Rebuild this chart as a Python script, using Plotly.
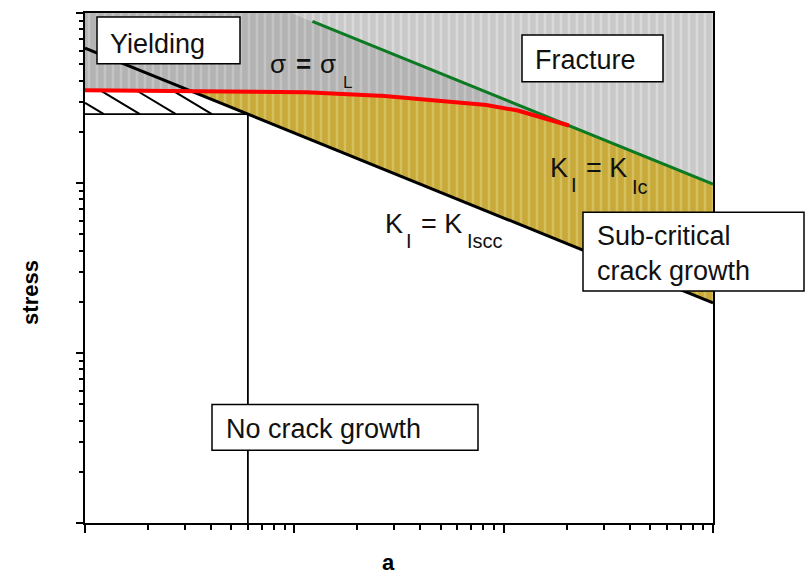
import numpy as np
import plotly.graph_objects as go

# ---- crack-growth map data: crack length a vs. stress (log-log) ----
axis_a = [1, 1000]
axis_stress = [1, 1000]
decades = [1, 10, 100, 1000]
minor_vals = [m * d for d in [1, 10, 100] for m in range(2, 10)]

# plastic limit stress, sigma = sigma_L
limit_a = [1, 3.2, 8.6, 20.7, 37, 77, 111, 162, 205]
limit_stress = [351, 349, 346, 333, 315, 291, 272, 237, 218]

# K_I = K_Iscc (stress-corrosion threshold)
kiscc_a = [1, 1000]
kiscc_stress = [622, 19.7]

# K_I = K_Ic (fracture toughness)
kic_a = [12.2, 1000]
kic_stress = [893, 98.6]

# crack length below which no growth occurs
a_threshold = 6

# ---- styling ----
W, H = 806, 575
ML, MR, MT, MB = 85, 93, 11, 52
PW, PH = W - ML - MR, H - MT - MB
FONT = "Liberation Sans, Arial, sans-serif"
HATCH_STEP = 0.172   # decades between hatch lines
HATCH_RISE = 0.74    # stress decades per crack-length decade

lg = np.log10


def straight(a_pts, s_pts):
    u0, u1 = lg(a_pts)
    v0, v1 = lg(s_pts)
    m = (v1 - v0) / (u1 - u0)
    return lambda u: v0 + m * (np.asarray(u, dtype=float) - u0)


v_scc = straight(kiscc_a, kiscc_stress)
v_ic = straight(kic_a, kic_stress)
u_lim, v_lim = lg(limit_a), lg(limit_stress)


def v_red(u):
    return np.interp(u, u_lim, v_lim)


u_min, u_max = lg(axis_a)
v_min, v_max = lg(axis_stress)
u_th = lg(a_threshold)
v_th = float(v_scc(u_th))
u_end = u_lim[-1]

grid = np.linspace(u_min, u_max, 3001)
# where the K_Ic line meets the top of the frame
ic_vals = v_ic(grid)
u_top = float(np.interp(v_max, ic_vals[::-1], grid[::-1]))
# where sigma_L crosses the K_Iscc line
g2 = grid[grid <= u_end]
u_x = float(np.interp(0.0, v_red(g2) - v_scc(g2), g2))

fig = go.Figure()


def region(u, v, bg, fg):
    fig.add_trace(go.Scatter(
        x=10 ** np.asarray(u), y=10 ** np.asarray(v), mode="lines",
        fill="toself", fillcolor=bg,
        fillpattern=dict(shape="|", bgcolor=bg, fgcolor=fg, size=8, solidity=0.3),
        line=dict(width=0, color="rgba(0,0,0,0)"), hoverinfo="skip", showlegend=False))


# fracture region (above K_Ic)
region([u_top, u_max, u_max], [v_max, v_max, float(v_ic(u_max))], "#c9c9c9", "#ececec")

# yielding region (above sigma_L)
ur = np.linspace(u_min, u_end, 200)
u_y = np.concatenate([[u_min, u_top, u_end], ur[::-1]])
v_y = np.concatenate([[v_max, v_max, float(v_ic(u_end))], v_red(ur[::-1])])
region(u_y, v_y, "#b3b3b3", "#d6d6d6")

# sub-critical crack growth region
ug = np.linspace(u_x, u_max, 400)
top = np.where(ug <= u_end, np.minimum(v_red(ug), v_ic(ug)), v_ic(ug))
bot = v_scc(ug)
region(np.concatenate([ug, ug[::-1]]), np.concatenate([top, bot[::-1]]), "#c8aa3a", "#e2d384")

# hatched band between sigma_L and threshold stress
hx, hy = [], []
s = np.linspace(0, 0.5, 2000)
for j in range(1, 6):
    ub = u_th - j * HATCH_STEP
    uu = ub - s
    vv = v_th + HATCH_RISE * s
    inside = (uu >= u_min) & (vv >= v_th - 1e-9) & (vv <= np.minimum(v_red(uu), v_scc(uu)))
    if inside.sum() < 2:
        continue
    idx = np.where(inside)[0]
    hx += [10 ** uu[idx[0]], 10 ** uu[idx[-1]], None]
    hy += [10 ** vv[idx[0]], 10 ** vv[idx[-1]], None]
fig.add_trace(go.Scatter(x=hx, y=hy, mode="lines", line=dict(color="black", width=2),
                         hoverinfo="skip", showlegend=False))

# threshold stress and threshold crack length
fig.add_trace(go.Scatter(x=[axis_a[0], a_threshold], y=[10 ** v_th] * 2, mode="lines",
                         line=dict(color="black", width=1.8), showlegend=False))
fig.add_trace(go.Scatter(x=[a_threshold] * 2, y=[axis_stress[0], 10 ** v_th], mode="lines",
                         line=dict(color="black", width=1.8), showlegend=False))

# K_I = K_Iscc
fig.add_trace(go.Scatter(x=kiscc_a, y=kiscc_stress, mode="lines",
                         line=dict(color="black", width=3), showlegend=False))
# K_I = K_Ic
fig.add_trace(go.Scatter(x=kic_a, y=kic_stress, mode="lines",
                         line=dict(color="#0b7a22", width=3), showlegend=False))
# sigma = sigma_L
ul = np.linspace(u_min, u_end, 200)
fig.add_trace(go.Scatter(x=10 ** ul, y=10 ** v_red(ul), mode="lines",
                         line=dict(color="#ff0000", width=4), showlegend=False))


def px(x):
    return (x - ML) / PW


def py(y):
    return (H - MB - y) / PH


shapes = []
for x0, y0, x1, y1 in [(97, 15, 240, 62), (522, 33, 663, 80),
                       (583, 211, 804, 290), (212, 404, 478, 450)]:
    shapes.append(dict(type="rect", xref="paper", yref="paper",
                       x0=px(x0), x1=px(x1), y0=py(y1), y1=py(y0),
                       fillcolor="white", line=dict(color="black", width=1.5),
                       layer="above"))

annotations = []


def label(text, x, y, size=27, color="#111111", **kw):
    annotations.append(dict(text=text, x=px(x), y=py(y), xref="paper", yref="paper",
                            xanchor="left", yanchor="middle", showarrow=False,
                            font=dict(family=FONT, size=size, color=color), **kw))


label("Yielding", 108, 42)
label("Fracture", 533, 58)
label("Sub-critical<br>crack growth", 595, 252, align="left")
label("No crack growth", 224, 429)

label("σ", 268, 62, size=26)
label("<b>=</b>", 294, 62, size=26)
label("σ", 318, 62, size=26)
label("L", 341, 81, size=17)

label("K", 548, 167, size=27)
label("I", 569, 184, size=20)
label("= K", 584, 167, size=27)
label("Ic", 630, 186, size=20)

label("K", 383, 223, size=27)
label("I", 404, 240, size=20)
label("= K", 419, 223, size=27)
label("Iscc", 465, 240, size=20)

# axis titles
annotations.append(dict(text="<b>a</b>", x=px(388), y=py(563), xref="paper", yref="paper",
                        xanchor="center", yanchor="middle", showarrow=False,
                        font=dict(family=FONT, size=22, color="black")))
annotations.append(dict(text="<b>stress</b>", x=px(31), y=py(292), xref="paper", yref="paper",
                        xanchor="center", yanchor="middle", showarrow=False, textangle=-90,
                        font=dict(family=FONT, size=22, color="black")))

axis_common = dict(showline=True, linecolor="black", linewidth=2, mirror=True,
                   showgrid=False, zeroline=False, showticklabels=False,
                   ticks="outside", tickcolor="black", tickwidth=1.5,
                   tickmode="array", tickvals=decades)

fig.update_layout(
    width=W, height=H, margin=dict(l=ML, r=MR, t=MT, b=MB, pad=0),
    paper_bgcolor="white", plot_bgcolor="white", showlegend=False,
    xaxis=dict(type="log", range=[u_min, u_max], ticklen=8,
               minor=dict(tickmode="array", tickvals=minor_vals, ticks="outside",
                          ticklen=5, tickcolor="black", tickwidth=1.5, showgrid=False),
               **axis_common),
    yaxis=dict(type="log", range=[v_min, v_max], ticklen=7,
               minor=dict(tickmode="array", tickvals=minor_vals, ticks="outside",
                          ticklen=4, tickcolor="black", tickwidth=1.5, showgrid=False),
               **axis_common),
    shapes=shapes, annotations=annotations,
)

fig.write_html("out.html")
